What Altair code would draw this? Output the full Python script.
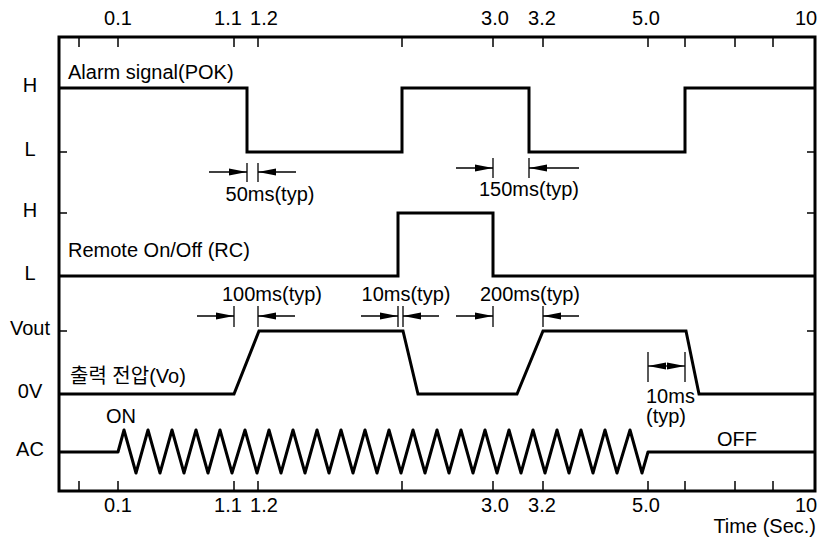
import altair as alt
import pandas as pd

FONT = "'Liberation Sans', 'Noto Sans CJK KR', sans-serif"

# Schematic time axis: positions along the drawn axis (not proportional to seconds)
tick_x = [20, 59, 175, 199, 343, 434, 484, 589, 626, 676, 714]
tick_label_text = ["0.1", "1.1", "1.2", "3.0", "3.2", "5.0", "10"]
tick_label_x = [59, 169, 205, 436, 483, 587, 747]

# Signal levels (vertical positions of each trace's states)
level_names = ["H", "L", "H", "L", "Vout", "0V", "AC"]
level_y = [403, 339, 278, 215, 160, 97, 39]

# Alarm signal (POK)
alarm_x = [0, 188, 188, 343, 343, 470, 470, 626, 626, 756]
alarm_y = [403, 403, 339, 339, 403, 403, 339, 339, 403, 403]

# Remote On/Off (RC)
rc_x = [0, 339, 339, 434, 434, 756]
rc_y = [215, 215, 278, 278, 215, 215]

# Output voltage (Vo)
vout_x = [0, 175, 200, 344, 359, 458, 484, 627, 640, 756]
vout_y = [97, 97, 160, 160, 97, 97, 160, 160, 97, 97]

# AC input
ac_x = [0, 59,
        65, 77, 89, 101, 113, 125, 137, 149, 161, 173, 186, 198, 210, 222,
        234, 246, 258, 270, 282, 294, 306, 318, 330, 342, 354, 366, 378, 390,
        402, 414, 426, 438, 450, 462, 474, 486, 498, 510, 522, 534, 546, 558,
        571, 583,
        589, 756]
ac_y = [39, 39,
        61, 18, 61, 18, 61, 18, 61, 18, 61, 18, 61, 18, 61, 18,
        61, 18, 61, 18, 61, 18, 61, 18, 61, 18, 61, 18, 61, 18,
        61, 18, 61, 18, 61, 18, 61, 18, 61, 18, 61, 18, 61, 18,
        61, 18,
        39, 39]

# Timing dimension annotations
ext_x = [188, 199, 434, 470, 175, 199, 339, 344, 434, 484, 589, 626]
ext_y1 = [309, 309, 313, 313, 164, 164, 164, 164, 164, 164, 109, 109]
ext_y2 = [328, 328, 333, 333, 185, 185, 185, 185, 185, 185, 139, 139]

arrow_from = [150, 237, 397, 520, 138, 236, 302, 380, 397, 520, 607, 607]
arrow_to = [188, 199, 434, 470, 175, 199, 339, 344, 434, 484, 589, 626]
arrow_y = [319, 319, 323, 323, 175, 175, 175, 175, 175, 175, 125, 125]

ann_text = ["50ms(typ)", "150ms(typ)", "100ms(typ)", "10ms(typ)", "200ms(typ)",
            "10ms", "(typ)"]
ann_x = [211, 470, 213, 347, 471, 587, 587]
ann_y = [296, 301, 196, 196, 196, 94, 74]
ann_align = ["center", "center", "center", "center", "center", "left", "left"]

lab_text = ["Alarm signal(POK)", "Remote On/Off (RC)", "출력 전압(Vo)", "ON", "OFF"]
lab_x = [9, 9, 11, 62, 678]
lab_y = [418, 240, 114, 74, 51]
lab_align = ["left", "left", "left", "center", "center"]

# ---------------------------------------------------------------------------
xs = alt.Scale(domain=[0, 756], nice=False, zero=False)
ys = alt.Scale(domain=[0, 454], nice=False, zero=False)


def wave_frame(items):
    rows = []
    for name, xx, yy in items:
        for i, (a, b) in enumerate(zip(xx, yy)):
            rows.append({"series": name, "i": i, "x": a, "y": b})
    return pd.DataFrame(rows)


sq_df = wave_frame([("alarm", alarm_x, alarm_y), ("rc", rc_x, rc_y),
                    ("vout", vout_x, vout_y)])
ac_df = wave_frame([("ac", ac_x, ac_y)])

waves = alt.Chart(sq_df).mark_line(color="black", strokeWidth=3,
                                   strokeJoin="miter").encode(
    x=alt.X("x:Q", scale=xs, axis=None),
    y=alt.Y("y:Q", scale=ys, axis=None),
    detail="series:N",
    order="i:Q",
)
ac_wave = alt.Chart(ac_df).mark_line(color="black", strokeWidth=3,
                                     strokeJoin="round").encode(
    x=alt.X("x:Q", scale=xs, axis=None),
    y=alt.Y("y:Q", scale=ys, axis=None),
    order="i:Q",
)

tick_df = pd.DataFrame({"x": tick_x})
top_ticks = alt.Chart(tick_df).mark_rule(color="black", strokeWidth=1.5).encode(
    x=alt.X("x:Q", scale=xs, axis=None), y=alt.value(0), y2=alt.value(10))
bot_ticks = alt.Chart(tick_df).mark_rule(color="black", strokeWidth=1.5).encode(
    x=alt.X("x:Q", scale=xs, axis=None), y=alt.value(444), y2=alt.value(454))

lvl_df = pd.DataFrame({"y": level_y, "name": level_names})
left_ticks = alt.Chart(lvl_df).mark_rule(color="black", strokeWidth=1.5).encode(
    y=alt.Y("y:Q", scale=ys, axis=None), x=alt.value(0), x2=alt.value(8))
right_ticks = alt.Chart(lvl_df).mark_rule(color="black", strokeWidth=1.5).encode(
    y=alt.Y("y:Q", scale=ys, axis=None), x=alt.value(748), x2=alt.value(756))
level_labels = alt.Chart(lvl_df).mark_text(
    font=FONT, fontSize=20, align="center", baseline="middle", dy=-2,
    color="black").encode(
    y=alt.Y("y:Q", scale=ys, axis=None), x=alt.value(-29), text="name:N")

tl_df = pd.DataFrame({"x": tick_label_x, "t": tick_label_text})
top_labels = alt.Chart(tl_df).mark_text(
    font=FONT, fontSize=20, align="center", baseline="middle",
    color="black").encode(
    x=alt.X("x:Q", scale=xs, axis=None), y=alt.value(-18), text="t:N")
bot_labels = alt.Chart(tl_df).mark_text(
    font=FONT, fontSize=20, align="center", baseline="middle",
    color="black").encode(
    x=alt.X("x:Q", scale=xs, axis=None), y=alt.value(469), text="t:N")

time_title = alt.Chart(pd.DataFrame({"t": ["Time (Sec.)"]})).mark_text(
    font=FONT, fontSize=20, align="right", baseline="middle",
    color="black").encode(x=alt.value(757), y=alt.value(490), text="t:N")

ext_df = pd.DataFrame({"x": ext_x, "y1": ext_y1, "y2": ext_y2})
ext_lines = alt.Chart(ext_df).mark_rule(color="black", strokeWidth=1.3).encode(
    x=alt.X("x:Q", scale=xs, axis=None),
    y=alt.Y("y1:Q", scale=ys, axis=None), y2="y2:Q")

arr_df = pd.DataFrame({"x1": arrow_from, "x2": arrow_to, "y": arrow_y})
arr_df["dir"] = ["r" if b > a else "l" for a, b in zip(arrow_from, arrow_to)]
arrow_lines = alt.Chart(arr_df).mark_rule(color="black", strokeWidth=1.3).encode(
    x=alt.X("x1:Q", scale=xs, axis=None), x2="x2:Q",
    y=alt.Y("y:Q", scale=ys, axis=None))
head_r = "M0,0L-2,-0.4L-2,0.4Z"
head_l = "M0,0L2,-0.4L2,0.4Z"
arrow_heads = alt.Chart(arr_df).mark_point(
    filled=True, color="black", opacity=1, size=324, strokeWidth=0).encode(
    x=alt.X("x2:Q", scale=xs, axis=None),
    y=alt.Y("y:Q", scale=ys, axis=None),
    shape=alt.Shape("dir:N", scale=alt.Scale(domain=["r", "l"],
                                             range=[head_r, head_l]),
                    legend=None))

ann_df = pd.DataFrame({"x": ann_x, "y": ann_y, "t": ann_text, "a": ann_align})
ann_c = alt.Chart(ann_df[ann_df.a == "center"]).mark_text(
    font=FONT, fontSize=20, align="center", baseline="middle",
    color="black").encode(
    x=alt.X("x:Q", scale=xs, axis=None), y=alt.Y("y:Q", scale=ys, axis=None),
    text="t:N")
ann_l = alt.Chart(ann_df[ann_df.a == "left"]).mark_text(
    font=FONT, fontSize=20, align="left", baseline="middle",
    color="black").encode(
    x=alt.X("x:Q", scale=xs, axis=None), y=alt.Y("y:Q", scale=ys, axis=None),
    text="t:N")

lab_df = pd.DataFrame({"x": lab_x, "y": lab_y, "t": lab_text, "a": lab_align})
lab_l = alt.Chart(lab_df[lab_df.a == "left"]).mark_text(
    font=FONT, fontSize=20, align="left", baseline="middle",
    color="black").encode(
    x=alt.X("x:Q", scale=xs, axis=None), y=alt.Y("y:Q", scale=ys, axis=None),
    text="t:N")
lab_c = alt.Chart(lab_df[lab_df.a == "center"]).mark_text(
    font=FONT, fontSize=20, align="center", baseline="middle",
    color="black").encode(
    x=alt.X("x:Q", scale=xs, axis=None), y=alt.Y("y:Q", scale=ys, axis=None),
    text="t:N")

chart = alt.layer(
    top_ticks, bot_ticks, left_ticks, right_ticks,
    ext_lines, arrow_lines, arrow_heads,
    waves, ac_wave,
    level_labels, top_labels, bot_labels, time_title,
    ann_c, ann_l, lab_l, lab_c,
).properties(
    width=756, height=454,
    autosize=alt.AutoSizeParams(type="none"),
    padding={"left": 51, "top": 29, "right": 2, "bottom": 46},
    background="white",
).configure_view(stroke="black", strokeWidth=3)

chart.save("out.html", embed_options={"renderer": "svg", "actions": False})
